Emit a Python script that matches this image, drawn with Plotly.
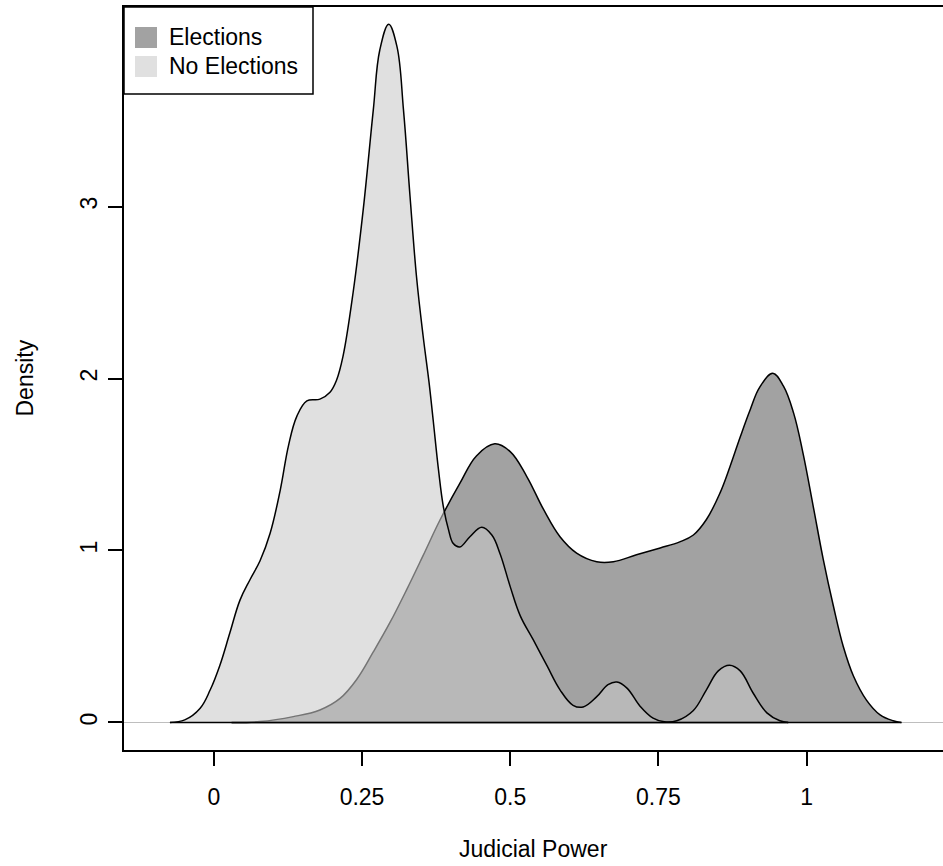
import plotly.graph_objects as go

# ---- data ----
no_elections_x = [-0.074, -0.049, -0.023, -0.006, 0.010, 0.027, 0.044, 0.061, 0.078, 0.095,
                  0.112, 0.126, 0.140, 0.157, 0.179, 0.196, 0.207, 0.218, 0.235, 0.252,
                  0.269, 0.280, 0.295, 0.309, 0.320, 0.331, 0.342, 0.353, 0.363, 0.370,
                  0.379, 0.387, 0.396, 0.404, 0.415, 0.432, 0.452, 0.469, 0.483, 0.500,
                  0.517, 0.539, 0.562, 0.584, 0.606, 0.623, 0.646, 0.665, 0.680, 0.697,
                  0.719, 0.741, 0.760, 0.781, 0.809, 0.831, 0.851, 0.870, 0.888, 0.910,
                  0.933, 0.955, 0.969]
no_elections_y = [0.0, 0.015, 0.083, 0.19, 0.33, 0.52, 0.71, 0.83, 0.94, 1.10,
                  1.35, 1.61, 1.78, 1.87, 1.88, 1.92, 1.99, 2.13, 2.50, 2.98,
                  3.56, 3.91, 4.06, 3.93, 3.56, 3.06, 2.59, 2.25, 1.98, 1.76,
                  1.47, 1.26, 1.12, 1.04, 1.02, 1.08, 1.135, 1.09, 0.98, 0.79,
                  0.62, 0.48, 0.33, 0.19, 0.10, 0.09, 0.15, 0.22, 0.235, 0.20,
                  0.095, 0.025, 0.004, 0.01, 0.07, 0.19, 0.30, 0.333, 0.30, 0.17,
                  0.056, 0.01, 0.0]

elections_x = [0.030, 0.078, 0.134, 0.179, 0.213, 0.241, 0.269, 0.297, 0.325, 0.353,
               0.382, 0.415, 0.443, 0.474, 0.500, 0.528, 0.556, 0.584, 0.612, 0.646,
               0.674, 0.713, 0.753, 0.786, 0.809, 0.831, 0.854, 0.871, 0.888, 0.905,
               0.921, 0.943, 0.961, 0.978, 0.994, 1.011, 1.028, 1.045, 1.062, 1.079,
               1.101, 1.124, 1.146, 1.160]
elections_y = [0.0, 0.005, 0.034, 0.073, 0.14, 0.25, 0.41, 0.58, 0.77, 0.97,
               1.18, 1.39, 1.55, 1.62, 1.575, 1.43, 1.24, 1.08, 0.985, 0.935,
               0.935, 0.975, 1.015, 1.05, 1.09, 1.18, 1.335, 1.49, 1.66, 1.82,
               1.95, 2.03, 1.955, 1.80, 1.565, 1.26, 0.95, 0.68, 0.44, 0.27,
               0.13, 0.044, 0.01, 0.0]

series_names = ["Elections", "No Elections"]
x_ticks = [0, 0.25, 0.5, 0.75, 1]
x_tick_labels = ["0", "0.25", "0.5", "0.75", "1"]
y_ticks = [0, 1, 2, 3]
y_tick_labels = ["0", "1", "2", "3"]

# ---- styles ----
FONT = "Liberation Sans, Arial, Helvetica, sans-serif"
FS = 23
col_elec = "#A2A2A2"
col_noelec = "rgba(201,201,201,0.575)"
SMOOTH = 1.1

W, H = 943, 866
ML, MR, MT, MB = 124, 0, 7, 116
PW, PH = W - ML - MR, H - MT - MB


def px_x(p):
    return (p - ML) / PW


def px_y(p):
    return 1 - (p - MT) / PH


fig = go.Figure()

# Elections density (drawn first)
fig.add_trace(go.Scatter(
    x=elections_x, y=elections_y, mode="lines", fill="tozeroy", name=series_names[0],
    fillcolor=col_elec, line=dict(color="black", width=1.5, shape="spline", smoothing=SMOOTH),
    showlegend=False, hoverinfo="skip"))
fig.add_trace(go.Scatter(
    x=[elections_x[0], elections_x[-1]], y=[0, 0], mode="lines",
    line=dict(color="black", width=1.5), showlegend=False, hoverinfo="skip"))

# No Elections density (semi-transparent, on top)
fig.add_trace(go.Scatter(
    x=no_elections_x, y=no_elections_y, mode="lines", fill="tozeroy", name=series_names[1],
    fillcolor=col_noelec, line=dict(color="black", width=1.5, shape="spline", smoothing=SMOOTH),
    showlegend=False, hoverinfo="skip"))
fig.add_trace(go.Scatter(
    x=[no_elections_x[0], no_elections_x[-1]], y=[0, 0], mode="lines",
    line=dict(color="black", width=1.5), showlegend=False, hoverinfo="skip"))

# ---- legend (R-style box, drawn with shapes + text) ----
shapes = [dict(type="rect", xref="paper", yref="paper",
               x0=px_x(124), x1=px_x(313), y0=px_y(94), y1=px_y(7),
               line=dict(color="black", width=1.5), fillcolor="white", layer="above")]
annotations = []
row_centers = [37.5, 66.5]
for name, c, yc in zip(series_names, [col_elec, col_noelec], row_centers):
    shapes.append(dict(type="rect", xref="paper", yref="paper",
                       x0=px_x(135), x1=px_x(157), y0=px_y(yc + 10.5), y1=px_y(yc - 10.5),
                       line=dict(width=0), fillcolor=c, layer="above"))
    annotations.append(dict(text=name, xref="paper", yref="paper", x=px_x(167), y=px_y(yc),
                            xanchor="left", yanchor="middle", showarrow=False,
                            font=dict(size=FS)))

annotations += [
    dict(text="Judicial Power", xref="paper", yref="paper", x=0.5, y=0,
         xanchor="center", yanchor="middle", yshift=-99, showarrow=False,
         font=dict(size=FS)),
    dict(text="Density", xref="paper", yref="paper", x=0, y=0.5,
         xanchor="center", yanchor="middle", xshift=-100, textangle=-90,
         showarrow=False, font=dict(size=FS)),
]

fig.update_layout(
    width=W, height=H,
    margin=dict(l=ML, r=MR, t=MT, b=MB),
    paper_bgcolor="white", plot_bgcolor="white",
    font=dict(family=FONT, size=FS, color="black"),
    showlegend=False,
    xaxis=dict(range=[-0.1515, 1.2301], tickvals=x_ticks, ticktext=x_tick_labels,
               showgrid=False, zeroline=False, showline=True, mirror=True,
               linecolor="black", linewidth=1.5, ticks="outside", ticklen=14,
               tickwidth=1.5, tickcolor="black", ticklabelstandoff=12),
    yaxis=dict(range=[-0.16, 4.16], tickvals=y_ticks, ticktext=y_tick_labels,
               showgrid=False, zeroline=True, zerolinecolor="#BEBEBE", zerolinewidth=1,
               showline=True, mirror=False, linecolor="black", linewidth=1.5,
               ticks="outside", ticklen=14, tickwidth=1.5, tickcolor="black",
               tickangle=-90, ticklabelstandoff=2),
    shapes=shapes,
    annotations=annotations,
)

fig.write_html("out.html", config={"displayModeBar": False},
               post_script="document.body.style.margin='0px';")
